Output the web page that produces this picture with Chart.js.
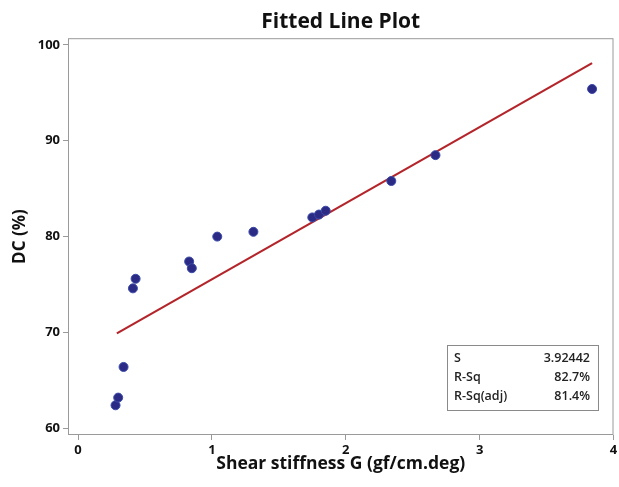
<!DOCTYPE html>
<html>
<head>
<meta charset="utf-8">
<script src="https://cdn.jsdelivr.net/npm/chart.js@4/dist/chart.umd.min.js"></script>
<style>
  html, body { margin: 0; padding: 0; background: #fff; }
  #wrap { width: 619px; height: 487px; }
</style>
</head>
<body>
<div id="wrap"><canvas id="chart"></canvas></div>
<script>
// observed points (shear stiffness G, DC %)
const shearG = [0.28, 0.30, 0.34, 0.41, 0.43, 0.83, 0.85, 1.04, 1.31, 1.75, 1.80, 1.85, 2.34, 2.67, 3.84];
const dcValues = [62.4, 63.2, 66.4, 74.6, 75.6, 77.4, 76.7, 80.0, 80.5, 82.0, 82.3, 82.7, 85.8, 88.5, 95.4];

// fitted line end points
const fitX = [0.29, 3.84];
const fitY = [69.9, 98.1];

const xTicks = [0, 1, 2, 3, 4];
const yTicks = [60, 70, 80, 90, 100];

const statLabels = ['S', 'R-Sq', 'R-Sq(adj)'];
const statValues = ['3.92442', '82.7%', '81.4%'];

const FONT = "'Open Sans', 'DejaVu Sans', sans-serif";
const AXIS_GREY = '#9a9a9a';

// frame around the plot area + the stats box
const framePlugin = {
  id: 'frame',
  afterDraw(chart) {
    const { ctx, chartArea: a } = chart;
    ctx.save();
    ctx.strokeStyle = AXIS_GREY;
    ctx.lineWidth = 1;
    ctx.strokeRect(a.left + 0.5, a.top + 0.5, a.right - a.left - 1, a.bottom - a.top - 1);

    // stats box
    const bx = 447, by = 345, bw = 151, bh = 65;
    ctx.strokeStyle = '#8a8a8a';
    ctx.strokeRect(bx + 0.5, by + 0.5, bw, bh);
    ctx.fillStyle = '#222';
    ctx.font = '600 12.5px ' + FONT;
    ctx.textBaseline = 'middle';
    statLabels.forEach((lab, i) => {
      const yy = by + 13 + i * 19;
      ctx.textAlign = 'left';
      ctx.fillText(lab, bx + 7, yy);
      ctx.textAlign = 'right';
      ctx.fillText(statValues[i], bx + bw - 8, yy);
    });
    ctx.restore();
  }
};

const ctx = document.getElementById('chart').getContext('2d');
new Chart(ctx, {
  type: 'scatter',
  data: {
    datasets: [{
      label: 'DC',
      data: shearG.map((g, i) => ({ x: g, y: dcValues[i] })),
      backgroundColor: '#2b2a85',
      borderColor: '#3a4aa8',
      borderWidth: 1,
      pointRadius: 4.5,
      order: 1
    }, {
      label: 'Fit',
      type: 'line',
      data: fitX.map((g, i) => ({ x: g, y: fitY[i] })),
      borderColor: '#b3252a',
      borderWidth: 2.2,
      pointRadius: 0,
      fill: false,
      order: 2
    }]
  },
  options: {
    responsive: true,
    maintainAspectRatio: false,
    animation: false,
    layout: { padding: { left: 10, right: 0, top: 9, bottom: 12 } },
    plugins: {
      legend: { display: false },
      tooltip: { enabled: false },
      title: {
        display: true,
        fullSize: false,
        text: 'Fitted Line Plot',
        color: '#111',
        font: { family: FONT, size: 21, weight: 'bold' },
        padding: { top: 0, bottom: 4 }
      }
    },
    scales: {
      x: {
        type: 'linear',
        min: -0.075,
        max: 4.0,
        afterBuildTicks: s => { s.ticks = xTicks.map(v => ({ value: v })); },
        afterFit: s => { s.height = 40; s.paddingLeft = 0; s.paddingRight = 0; },
        grid: { drawOnChartArea: false, drawTicks: true, tickLength: 5, color: AXIS_GREY },
        border: { display: false },
        ticks: { color: '#111', padding: 2, font: { family: FONT, size: 13, weight: 'bold' } },
        title: {
          display: true,
          text: 'Shear stiffness G (gf/cm.deg)',
          color: '#111',
          padding: { top: 0, bottom: 0 },
          font: { family: FONT, size: 17.5, weight: 'bold' }
        }
      },
      y: {
        min: 59.3,
        max: 100.7,
        afterBuildTicks: s => { s.ticks = yTicks.map(v => ({ value: v })); },
        afterFit: s => { s.width = 58; s.paddingTop = 0; s.paddingBottom = 0; },
        grid: { drawOnChartArea: false, drawTicks: true, tickLength: 5, color: AXIS_GREY },
        border: { display: false },
        ticks: { color: '#111', padding: 3, font: { family: FONT, size: 13, weight: 'bold' } },
        title: {
          display: true,
          text: 'DC (%)',
          color: '#111',
          padding: { top: 0, bottom: 2 },
          font: { family: FONT, size: 17, weight: 'bold' }
        }
      }
    }
  },
  plugins: [framePlugin]
});
</script>
</body>
</html>
